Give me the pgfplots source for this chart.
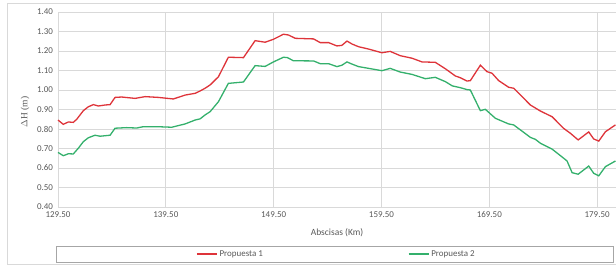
\documentclass[border=0pt]{standalone}
\usepackage{fontspec}
\setmainfont{Carlito}
\newfontfamily\serifY{Liberation Serif}
\usepackage{pgfplots}
\pgfplotsset{compat=1.18}
\definecolor{pred}{RGB}{222,52,58}
\definecolor{pgreen}{RGB}{52,176,108}
\definecolor{gridc}{RGB}{217,217,217}
\definecolor{txt}{RGB}{89,89,89}
\begin{document}
\begin{tikzpicture}
\useasboundingbox (0,0) rectangle (616bp,265bp);
\draw[gridc, line width=0.6bp] (7bp,0.5bp) rectangle (640bp,262bp);
\begin{axis}[
  at={(58bp,58bp)}, anchor=south west,
  width=558bp, height=195bp, scale only axis,
  xmin=129.5, xmax=181.25, ymin=0.4, ymax=1.4,
  xtick={129.5,139.5,149.5,159.5,169.5,179.5},
  ytick={0.4,0.5,...,1.41},
  grid=major, major grid style={gridc, line width=0.7bp},
  axis x line*=bottom, axis y line*=left,
  axis line style={gridc, line width=0.8bp, -},
  major tick length=0pt,
  /pgf/number format/assume math mode=true,
  xticklabel style={/pgf/number format/fixed, /pgf/number format/fixed zerofill, /pgf/number format/precision=2, yshift=-1bp},
  yticklabel style={/pgf/number format/fixed, /pgf/number format/fixed zerofill, /pgf/number format/precision=2, xshift=-1.5bp},
  tick label style={font=\fontsize{9}{10}\selectfont, text=txt},
  xlabel={Abscisas (Km)},
  xlabel style={font=\fontsize{9.5}{11}\selectfont, text=txt, at={(axis description cs:0.5,-0.133)}, anchor=center},
  ylabel={\serifY $\Delta$H (m)},
  ylabel style={font=\fontsize{9.5}{11}\selectfont, text=txt, at={(axis description cs:-0.0591,0.487)}, anchor=center},
  legend columns=2,
  legend style={draw=none, fill=none, at={(axis description cs:0.2475,-0.241)}, anchor=west,
    font=\fontsize{9}{10}\selectfont, text=txt,
    /tikz/every even column/.append style={column sep=143bp},
    inner sep=0pt},
  legend image code/.code={\draw[#1] (0bp,0bp) -- (20bp,0bp);},
  clip=false,
]
\addplot[pred, line width=1.3bp] coordinates {
(129.50,0.846)(129.99,0.824)(130.46,0.836)(130.92,0.834)(131.24,0.850)(131.85,0.894)(132.31,0.914)(132.78,0.925)(133.24,0.918)(133.86,0.923)(134.33,0.925)(134.79,0.962)(135.41,0.964)(136.65,0.957)(137.58,0.966)(138.81,0.962)(140.20,0.954)(141.29,0.974)(142.22,0.983)(142.68,0.995)(143.14,1.009)(143.61,1.026)(144.38,1.068)(145.30,1.168)(146.70,1.166)(147.78,1.253)(148.71,1.245)(149.48,1.260)(150.41,1.286)(150.88,1.282)(151.50,1.265)(153.20,1.262)(153.82,1.243)(154.59,1.243)(155.37,1.226)(155.83,1.229)(156.30,1.251)(156.76,1.236)(157.37,1.222)(158.30,1.210)(159.54,1.191)(160.31,1.198)(161.24,1.176)(162.33,1.163)(163.26,1.144)(164.49,1.142)(165.42,1.109)(166.35,1.072)(166.81,1.063)(167.43,1.046)(167.74,1.048)(168.67,1.127)(169.29,1.094)(169.75,1.086)(170.37,1.048)(171.29,1.014)(171.76,1.009)(172.54,0.966)(173.31,0.923)(174.24,0.892)(175.32,0.863)(176.40,0.803)(177.02,0.778)(177.74,0.744)(178.72,0.785)(179.18,0.749)(179.65,0.738)(180.27,0.786)(181.20,0.821)
};
\addlegendentry{Propuesta 1}
\addplot[pgreen, line width=1.3bp] coordinates {
(129.50,0.680)(129.99,0.663)(130.46,0.673)(130.92,0.672)(131.38,0.701)(131.85,0.735)(132.31,0.755)(132.93,0.768)(133.40,0.763)(134.33,0.768)(134.79,0.804)(135.87,0.807)(136.80,0.805)(137.42,0.812)(138.66,0.812)(140.05,0.809)(141.29,0.826)(142.22,0.846)(142.68,0.852)(143.14,0.872)(143.61,0.889)(144.38,0.940)(145.30,1.034)(146.70,1.041)(147.78,1.125)(148.71,1.121)(149.48,1.144)(150.41,1.168)(150.78,1.166)(151.33,1.150)(153.20,1.149)(153.82,1.135)(154.59,1.135)(155.37,1.120)(155.83,1.127)(156.30,1.144)(156.76,1.133)(157.37,1.120)(158.30,1.111)(159.54,1.099)(160.31,1.111)(161.24,1.092)(162.33,1.080)(163.57,1.058)(164.49,1.065)(165.42,1.043)(166.07,1.021)(166.81,1.012)(167.43,1.002)(167.74,1.000)(168.67,0.894)(169.13,0.901)(170.06,0.855)(171.29,0.826)(171.76,0.821)(173.31,0.757)(173.77,0.747)(174.24,0.727)(175.32,0.697)(176.40,0.650)(176.71,0.636)(177.18,0.576)(177.74,0.568)(178.72,0.610)(179.18,0.573)(179.65,0.560)(180.27,0.607)(181.20,0.636)
};
\addlegendentry{Propuesta 2}
\end{axis}
\draw[gray!70, line width=0.9bp] (56bp,3bp) rectangle (613bp,19bp);
\end{tikzpicture}
\end{document}
